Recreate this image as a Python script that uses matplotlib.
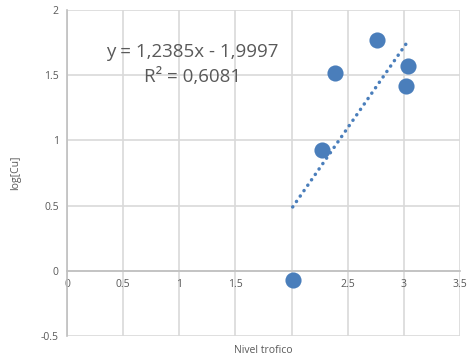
import matplotlib.pyplot as plt
import numpy as np

# Nivel trofico vs log[Cu]
nivel = [2.01, 2.27, 2.39, 2.76, 3.02, 3.04]
log_cu = [-0.07, 0.93, 1.52, 1.77, 1.42, 1.57]

# trendline as reported
slope, intercept = 1.2385, -1.9997
r2 = 0.6081

blue = '#4a7ebb'
grey_txt = '#595959'

fig = plt.figure(figsize=(4.73, 3.6), dpi=100)
ax = fig.add_axes([0.1416, 0.0667, 0.8309, 0.9055])

ax.set_xlim(0, 3.5)
ax.set_ylim(-0.5, 2)
ax.set_xticks(np.arange(0, 3.51, 0.5))
ax.set_yticks(np.arange(-0.5, 2.01, 0.5))
ax.set_xticklabels(['0', '0.5', '1', '1.5', '2', '2.5', '3', '3.5'])
ax.set_yticklabels(['-0.5', '0', '0.5', '1', '1.5', '2'])
ax.grid(True, color='#d9d9d9', lw=1.2)
ax.set_axisbelow(True)

for s in ['top', 'right']:
    ax.spines[s].set_visible(False)
ax.spines['bottom'].set_position(('data', 0))
ax.spines['bottom'].set_color('#bfbfbf')
ax.spines['bottom'].set_linewidth(1.2)
ax.spines['left'].set_color('#bfbfbf')
ax.spines['left'].set_linewidth(1.2)
ax.tick_params(length=0, labelsize=7.5, labelcolor=grey_txt, pad=6)
for t in ax.get_xticklabels():
    t.set_fontfamily('Open Sans')
for t in ax.get_yticklabels():
    t.set_fontfamily('Open Sans')

ax.scatter(nivel, log_cu, s=135, color=blue, zorder=3, linewidths=0)

# linear trendline over the x-range of the data
xt = np.array([min(nivel), max(nivel)])
ax.plot(xt, slope * xt + intercept, color=blue, lw=2.5,
        linestyle=(0, (0.05, 1.85)), dash_capstyle='round', zorder=2)

ax.text(1.12, 1.68, f"y = {slope:.4f}x - {abs(intercept):.4f}".replace('.', ','),
        ha='center', va='center', fontsize=13.5, color=grey_txt, family='Open Sans')
ax.text(1.12, 1.49, f"R² = {r2:.4f}".replace('.', ','),
        ha='center', va='center', fontsize=13.5, color=grey_txt, family='Open Sans')

ax.set_ylabel('log[Cu]', fontsize=7.5, color=grey_txt, family='Open Sans', labelpad=14)
fig.text(0.556, 0.026, 'Nivel trofico', ha='center', va='center',
         fontsize=7.5, color=grey_txt, family='Open Sans')

fig.savefig('out.png', dpi=100)
